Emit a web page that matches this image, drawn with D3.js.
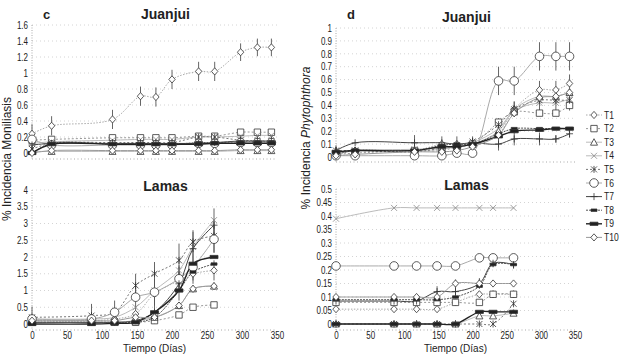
<!DOCTYPE html>
<html>
<head>
<meta charset="utf-8">
<script src="https://d3js.org/d3.v7.min.js"></script>
<style>
  body { margin: 0; background: #fff; }
  text { font-family: Arial, "Liberation Sans", sans-serif; fill: #222; }
</style>
</head>
<body>
<script>
// ---- data ----
const treatments = ["T1", "T2", "T3", "T4", "T5", "T6", "T7", "T8", "T9", "T10"];
const daysJuanjui = [0, 28, 115, 155, 177, 200, 238, 261, 298, 322, 342];
const daysLamas = [0, 85, 118, 148, 175, 210, 230, 260];

// c - Juanjui, % incidencia moniliasis (one row per treatment)
const monJuanjui = [
  [0.24, 0.34, 0.42, 0.71, 0.70, 0.92, 1.02, 1.02, 1.26, 1.32, 1.32],
  [0.16, 0.17, 0.19, 0.19, 0.19, 0.19, 0.21, 0.21, 0.26, 0.26, 0.26],
  [0.02, 0.02, 0.02, 0.02, 0.02, 0.02, 0.02, 0.02, 0.03, 0.03, 0.03],
  [0.12, 0.14, 0.16, 0.17, 0.17, 0.17, 0.20, 0.20, 0.21, 0.22, 0.22],
  [0.05, 0.12, 0.13, 0.13, 0.13, 0.13, 0.20, 0.20, 0.16, 0.15, 0.15],
  [0.17, 0.10, 0.10, 0.10, 0.10, 0.10, 0.12, 0.12, 0.13, 0.13, 0.13],
  [0.10, 0.12, 0.12, 0.12, 0.12, 0.12, 0.12, 0.13, 0.15, 0.15, 0.15],
  [0.00, 0.12, 0.11, 0.11, 0.11, 0.11, 0.13, 0.13, 0.14, 0.14, 0.14],
  [0.00, 0.11, 0.11, 0.11, 0.11, 0.11, 0.11, 0.12, 0.12, 0.12, 0.12],
  [0.00, 0.03, 0.03, 0.03, 0.03, 0.03, 0.03, 0.03, 0.04, 0.04, 0.04]
];
const monJuanjuiErr = [
  [0.12, 0.12, 0.12, 0.12, 0.12, 0.12, 0.12, 0.12, 0.11, 0.11, 0.11],
  [0.03, 0, 0.03, 0.03, 0.03, 0.03, 0.03, 0.03, 0.03, 0.03, 0.03],
  [0, 0, 0, 0, 0, 0, 0, 0, 0, 0, 0],
  [0, 0, 0.03, 0.03, 0.03, 0.03, 0.03, 0.03, 0.03, 0.03, 0.03],
  [0.04, 0.03, 0.04, 0.04, 0.04, 0.04, 0.04, 0.04, 0.04, 0.04, 0.04],
  [0.05, 0, 0, 0, 0, 0, 0, 0, 0, 0, 0],
  [0, 0, 0, 0, 0, 0, 0, 0, 0, 0, 0],
  [0, 0, 0, 0, 0, 0, 0, 0, 0, 0, 0],
  [0.05, 0.03, 0.03, 0.03, 0.03, 0.03, 0.03, 0.03, 0.03, 0.03, 0.03],
  [0, 0, 0, 0, 0, 0, 0, 0, 0, 0, 0]
];

// Lamas, % incidencia moniliasis
const monLamas = [
  [0.10, 0.10, 0.15, 0.30, 0.90, 1.30, 1.50, 1.60],
  [0.05, 0.05, 0.05, 0.05, 0.10, 0.27, 0.50, 0.57],
  [0.05, 0.05, 0.05, 0.10, 0.20, 0.55, 1.05, 1.13],
  [0.15, 0.15, 0.20, 0.50, 1.00, 1.60, 2.30, 3.10],
  [0.20, 0.25, 0.35, 1.15, 1.50, 1.90, 2.45, 2.63],
  [0.15, 0.15, 0.35, 0.80, 0.95, 1.35, 1.70, 2.53],
  [0.05, 0.05, 0.05, 0.10, 0.35, 1.20, 2.25, 2.95],
  [0.05, 0.05, 0.05, 0.05, 0.20, 1.00, 1.55, 1.79],
  [0.00, 0.00, 0.02, 0.05, 0.35, 1.00, 1.80, 2.00],
  [0.10, 0.10, 0.10, 0.20, 0.20, 0.55, 1.05, 1.13]
];
const monLamasErr = [
  [0, 0, 0, 0, 0.3, 0.3, 0.3, 0.3],
  [0, 0, 0, 0, 0, 0, 0, 0],
  [0, 0, 0, 0, 0, 0, 0, 0],
  [0, 0, 0, 0, 0, 0, 0, 0],
  [0.32, 0.35, 0.35, 0.35, 0.35, 0.5, 0.35, 0.5],
  [0, 0, 0, 0.4, 0.4, 0.4, 0.4, 0.4],
  [0, 0, 0, 0, 0.35, 0.5, 0.5, 0.5],
  [0, 0, 0, 0, 0, 0, 0, 0],
  [0, 0, 0, 0, 0, 0, 0, 0],
  [0, 0, 0, 0, 0, 0, 0, 0]
];

// d - Juanjui, % incidencia Phytophthora
const phyJuanjui = [
  [0.03, 0.05, 0.05, 0.10, 0.10, 0.10, 0.18, 0.37, 0.52, 0.52, 0.57],
  [0.02, 0.03, 0.05, 0.05, 0.08, 0.10, 0.27, 0.35, 0.34, 0.34, 0.40],
  [0.02, 0.05, 0.05, 0.06, 0.08, 0.10, 0.20, 0.37, 0.47, 0.47, 0.50],
  [0.03, 0.05, 0.06, 0.07, 0.08, 0.11, 0.22, 0.36, 0.42, 0.42, 0.45],
  [0.05, 0.05, 0.04, 0.07, 0.09, 0.12, 0.25, 0.37, 0.44, 0.44, 0.44],
  [0.01, 0.01, 0.01, 0.01, 0.03, 0.03, 0.59, 0.59, 0.78, 0.78, 0.78],
  [0.05, 0.11, 0.11, 0.11, 0.10, 0.11, 0.10, 0.14, 0.14, 0.14, 0.18],
  [0.02, 0.05, 0.05, 0.09, 0.10, 0.10, 0.18, 0.22, 0.22, 0.22, 0.22],
  [0.04, 0.05, 0.05, 0.08, 0.08, 0.10, 0.16, 0.20, 0.21, 0.22, 0.22],
  [0.01, 0.02, 0.04, 0.04, 0.05, 0.08, 0.17, 0.34, 0.46, 0.47, 0.50]
];
const phyJuanjuiErr = [
  [0.04, 0, 0.06, 0.06, 0.06, 0.06, 0.05, 0.06, 0.07, 0.07, 0.07],
  [0, 0, 0, 0, 0, 0, 0, 0, 0, 0, 0],
  [0, 0, 0, 0, 0, 0, 0, 0, 0, 0, 0],
  [0, 0, 0, 0, 0, 0, 0, 0, 0, 0, 0],
  [0.04, 0, 0, 0, 0, 0.03, 0.05, 0.06, 0.08, 0.08, 0.08],
  [0, 0, 0, 0, 0, 0, 0.11, 0.11, 0.11, 0.11, 0.11],
  [0.03, 0, 0.06, 0, 0, 0, 0.05, 0.05, 0.05, 0.03, 0.03],
  [0, 0, 0, 0, 0, 0, 0, 0, 0, 0, 0],
  [0, 0, 0, 0, 0, 0, 0, 0, 0, 0, 0],
  [0, 0, 0, 0, 0, 0, 0, 0, 0, 0, 0]
];

// Lamas, % incidencia Phytophthora
const phyLamas = [
  [0.055, 0.055, 0.055, 0.055, 0.08, 0.11, 0.11, 0.11],
  [0.08, 0.08, 0.08, 0.08, 0.08, 0.08, 0.11, 0.11],
  [0.00, 0.00, 0.00, 0.00, 0.00, 0.03, 0.03, 0.04],
  [0.39, 0.43, 0.43, 0.43, 0.43, 0.43, 0.43, 0.43],
  [0.00, 0.00, 0.00, 0.00, 0.00, 0.00, 0.00, 0.075],
  [0.215, 0.215, 0.215, 0.215, 0.215, 0.245, 0.245, 0.245],
  [0.085, 0.085, 0.085, 0.12, 0.12, 0.15, 0.225, 0.22],
  [0.09, 0.09, 0.09, 0.09, 0.10, 0.14, 0.22, 0.22],
  [0.00, 0.00, 0.00, 0.00, 0.00, 0.045, 0.045, 0.045],
  [0.10, 0.10, 0.10, 0.10, 0.15, 0.15, 0.15, 0.15]
];
const phyLamasErr = [
  [0, 0, 0, 0, 0, 0, 0, 0],
  [0, 0, 0, 0, 0, 0, 0, 0],
  [0, 0, 0, 0, 0, 0, 0, 0],
  [0, 0, 0, 0, 0, 0, 0, 0],
  [0, 0, 0, 0, 0, 0, 0, 0],
  [0, 0, 0, 0, 0, 0, 0, 0],
  [0, 0, 0, 0.02, 0.02, 0.02, 0.015, 0.015],
  [0, 0, 0, 0, 0, 0, 0, 0],
  [0, 0, 0, 0, 0, 0, 0, 0],
  [0, 0, 0, 0, 0.015, 0.015, 0, 0]
];

// ---- styles per treatment ----
const lineColor = ["#aaa", "#999", "#bbb", "#bbb", "#777", "#aaa", "#444", "#555", "#222", "#999"];
const lineDash  = ["1.5,1.5", "2,2", null, null, "2,2", null, null, "2,1", null, null];
const lineWidth = [1, 1, 1, 1, 1, 1, 1, 1, 1.4, 1];
const markType  = ["diamond", "square", "triangle", "x", "asterisk", "circle", "plus", "dash", "thick", "diamond"];

function markerPath(type) {
  switch (type) {
    case "diamond": return "M0,-3.6L3.2,0L0,3.6L-3.2,0Z";
    case "square": return "M-3.2,-3.2H3.2V3.2H-3.2Z";
    case "triangle": return "M0,-3.5L3.5,3L-3.5,3Z";
    case "x": return "M-3,-3L3,3M-3,3L3,-3";
    case "asterisk": return "M-3,-3L3,3M-3,3L3,-3M0,-3.5V3.5";
    case "circle": return "M4.3,0A4.3,4.3 0 1,1 -4.3,0A4.3,4.3 0 1,1 4.3,0Z";
    case "plus": return "M-3.5,0H3.5M0,-3.5V3.5";
    case "dash": return "M-3,-1.2H3V1.2H-3Z";
    case "thick": return "M-4,-1.6H4V1.6H-4Z";
  }
}
function markFill(type) {
  if (type === "dash" || type === "thick") return "#222";
  if (type === "x" || type === "asterisk" || type === "plus") return "none";
  return "#fff";
}
function markStroke(i) {
  return markType[i] === "x" ? "#888" : "#333";
}

const width = 626, height = 359;
const svg = d3.select("body").append("svg")
  .attr("width", width)
  .attr("height", height);

const panels = [
  { letter: "c", title: "Juanjui", days: daysJuanjui, values: monJuanjui, errs: monJuanjuiErr,
    xr: [32, 277], yr: [153, 25], yMax: 1.6, step: 0.2, base: 159, xLabels: false },
  { letter: "", title: "Lamas", days: daysLamas, values: monLamas, errs: monLamasErr,
    xr: [32, 277], yr: [324, 190], yMax: 4, step: 0.5, base: 330, xLabels: true },
  { letter: "d", title: "Juanjui", days: daysJuanjui, values: phyJuanjui, errs: phyJuanjuiErr,
    xr: [336, 575], yr: [157, 28], yMax: 1, step: 0.1, base: 162, xLabels: false },
  { letter: "", title: "Lamas", days: daysLamas, values: phyLamas, errs: phyLamasErr,
    xr: [336, 575], yr: [324, 189], yMax: 0.5, step: 0.05, base: 330, xLabels: true }
];

function squeeze(sel, k) {
  sel.each(function () {
    const w = this.getComputedTextLength();
    d3.select(this).attr("textLength", w * k).attr("lengthAdjust", "spacingAndGlyphs");
  });
}

panels.forEach(function (p) {
  let x = d3.scaleLinear().domain([0, 350]).range(p.xr);
  let y = d3.scaleLinear().domain([0, p.yMax]).range(p.yr);
  let g = svg.append("g");
  let ticks = d3.range(0, p.yMax + p.step / 2, p.step);

  // faint dotted gridlines
  g.selectAll(".grid").data(ticks.slice(1)).enter().append("line")
    .attr("x1", x(0)).attr("x2", x(350))
    .attr("y1", d => y(d)).attr("y2", d => y(d))
    .attr("stroke", "#d4d4d4").attr("stroke-dasharray", "1,3");

  // dotted axis lines
  g.append("line").attr("x1", x(0)).attr("x2", x(0)).attr("y1", y(p.yMax)).attr("y2", p.base)
    .attr("stroke", "#aaa").attr("stroke-dasharray", "1,1.5");
  g.append("line").attr("x1", x(0)).attr("x2", x(350)).attr("y1", p.base).attr("y2", p.base)
    .attr("stroke", "#aaa").attr("stroke-dasharray", "1,2.5");

  let yAxis = g.append("g")
    .attr("transform", "translate(" + x(0) + ",0)")
    .call(d3.axisLeft(y).tickValues(ticks).tickSize(0).tickPadding(4)
      .tickFormat(d => String(+d.toFixed(2))));
  yAxis.select(".domain").remove();
  yAxis.selectAll("text").attr("font-size", "10px").attr("font-family", "Arial, 'Liberation Sans', sans-serif")
    .attr("fill", "#222").call(squeeze, 0.8);

  if (p.xLabels) {
    let xAxis = g.append("g")
      .attr("transform", "translate(0," + p.base + ")")
      .call(d3.axisBottom(x).tickValues(d3.range(0, 351, 50)).tickSize(0).tickPadding(2));
    xAxis.select(".domain").remove();
    xAxis.selectAll("text").attr("font-size", "10px").attr("font-family", "Arial, 'Liberation Sans', sans-serif")
      .attr("fill", "#222").call(squeeze, 0.8);
    g.append("text").attr("x", (p.xr[0] + p.xr[1]) / 2 + 0).attr("y", 352)
      .attr("text-anchor", "middle").attr("font-size", "10px").text("Tiempo (Días)");
  }

  // title and panel letter
  g.append("text").attr("x", (p.xr[0] + p.xr[1]) / 2 + 11).attr("y", p.yr[1] - (p.xLabels ? -1 : 6))
    .attr("text-anchor", "middle").attr("font-size", "14px").attr("font-weight", "bold").text(p.title);
  if (p.letter) {
    g.append("text").attr("x", x(0) + 11).attr("y", 19)
      .attr("font-family", "'Liberation Serif', 'DejaVu Serif', serif")
      .attr("font-size", "13px").attr("font-weight", "bold").text(p.letter);
  }

  let line = d3.line()
    .x((d, i) => x(p.days[i]))
    .y(d => y(d))
    .curve(d3.curveCatmullRom);

  // series lines
  g.selectAll(".series").data(p.values).enter().append("path")
    .attr("d", d => line(d))
    .attr("fill", "none")
    .attr("stroke", (d, i) => lineColor[i])
    .attr("stroke-width", (d, i) => lineWidth[i])
    .attr("stroke-dasharray", (d, i) => lineDash[i]);

  // error bars (only points with a non-zero error)
  p.values.forEach(function (vals, i) {
    let bars = vals.map((v, j) => ({ day: p.days[j], v: v, e: p.errs[i][j] }))
      .filter(b => b.e > 0);
    g.selectAll(".err" + i).data(bars).enter().append("line")
      .attr("x1", b => x(b.day)).attr("x2", b => x(b.day))
      .attr("y1", b => y(Math.max(0, b.v - b.e)))
      .attr("y2", b => y(b.v + b.e))
      .attr("stroke", "#555")
      .attr("stroke-width", 0.9);
  });

  // markers
  p.values.forEach(function (vals, i) {
    g.selectAll(".mk" + i).data(vals).enter().append("path")
      .attr("transform", (d, j) => "translate(" + x(p.days[j]) + "," + y(d) + ")")
      .attr("d", markerPath(markType[i]))
      .attr("fill", markFill(markType[i]))
      .attr("stroke", markStroke(i))
      .attr("stroke-width", 0.8);
  });
});

// y axis titles
svg.append("text")
  .attr("transform", "translate(11,159) rotate(-90)")
  .attr("text-anchor", "middle").attr("font-size", "12px")
  .text("% Incidencia Moniliasis");

let phyLabel = svg.append("text")
  .attr("transform", "translate(310,138) rotate(-90)")
  .attr("text-anchor", "middle").attr("font-size", "12px");
phyLabel.append("tspan").text("% Incidencia ");
phyLabel.append("tspan").attr("font-style", "italic").text("Phytophthora");

// legend
let legend = svg.append("g");
treatments.forEach(function (t, i) {
  let yy = 115 + i * 13.6;
  legend.append("line").attr("x1", 586).attr("x2", 602).attr("y1", yy).attr("y2", yy)
    .attr("stroke", lineColor[i]).attr("stroke-width", lineWidth[i])
    .attr("stroke-dasharray", lineDash[i]);
  legend.append("path").attr("transform", "translate(594," + yy + ")")
    .attr("d", markerPath(markType[i]))
    .attr("fill", markFill(markType[i]))
    .attr("stroke", markStroke(i)).attr("stroke-width", 0.8);
  legend.append("text").attr("x", 604).attr("y", yy + 3.5)
    .attr("font-size", "10px").text(t).call(squeeze, 0.85);
});
</script>
</body>
</html>
